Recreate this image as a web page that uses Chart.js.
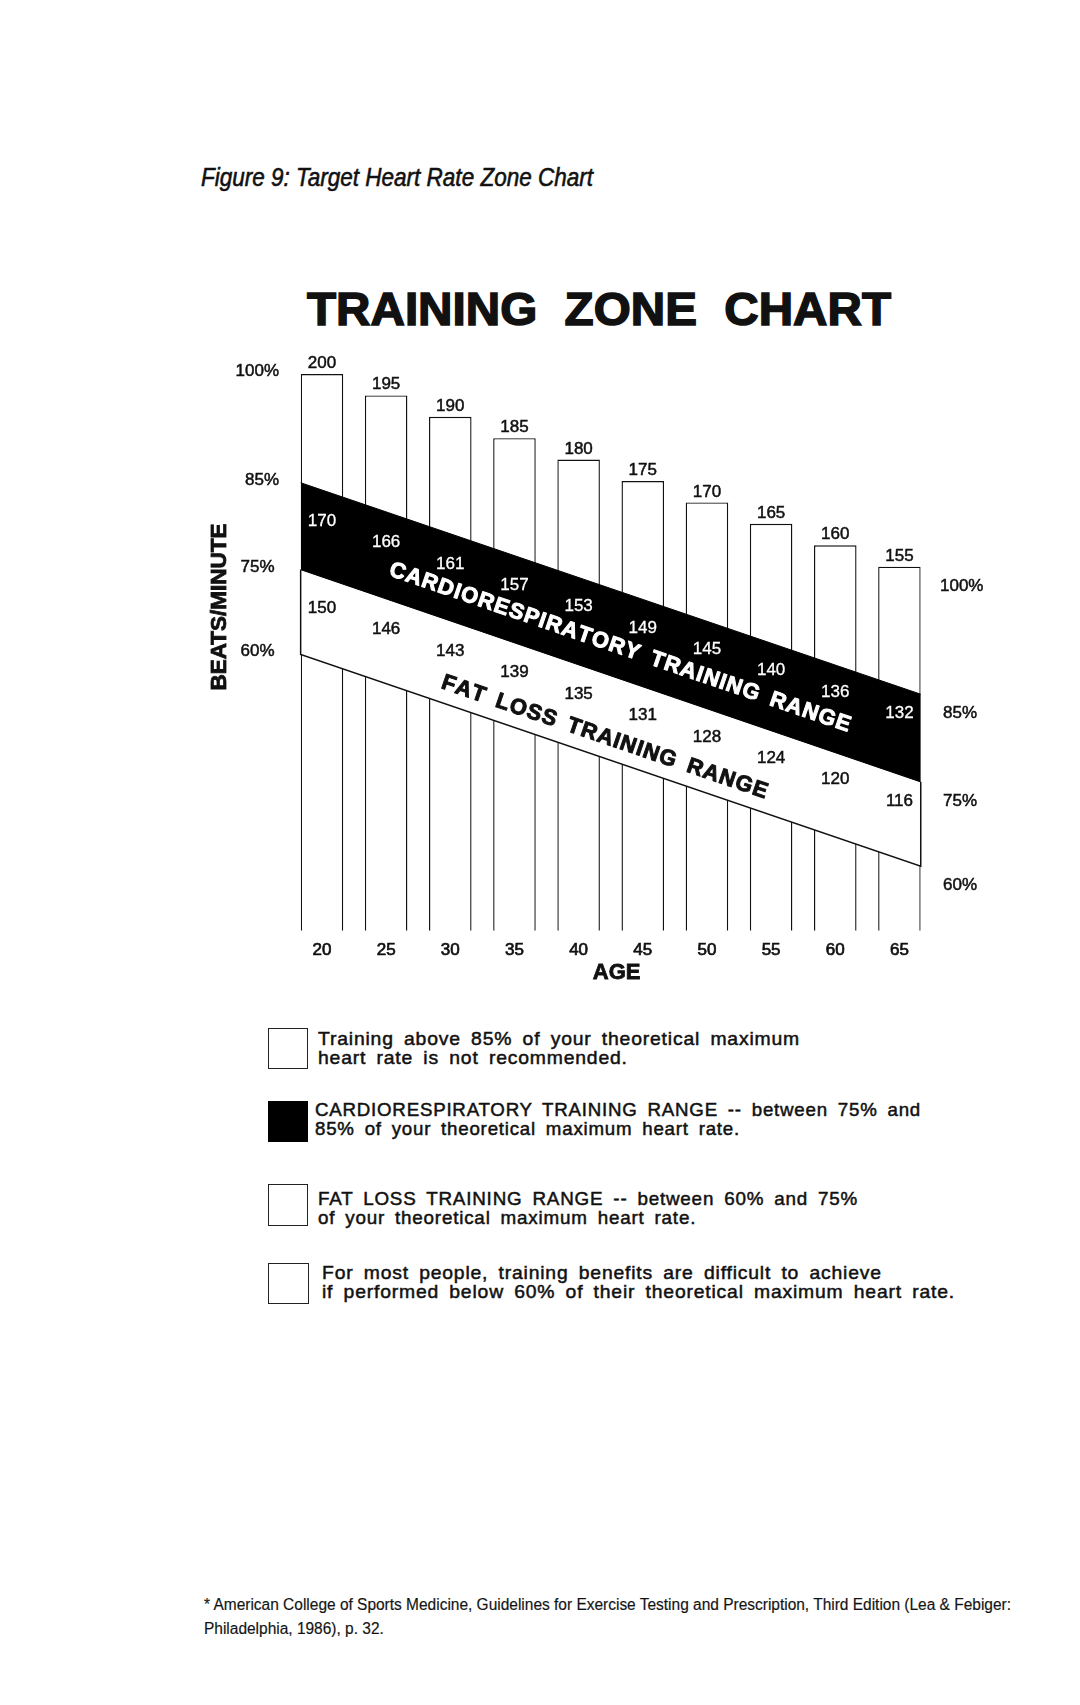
<!DOCTYPE html>
<html>
<head>
<meta charset="utf-8">
<script src="https://cdn.jsdelivr.net/npm/chart.js@4.4.1/dist/chart.umd.min.js"></script>
<style>
  html, body { margin: 0; padding: 0; background: #fff; }
  body { width: 1080px; height: 1705px; position: relative; overflow: hidden;
         font-family: "Liberation Sans", Arial, sans-serif; color: #111; }
  .abs { position: absolute; white-space: nowrap; transform-origin: 0 0; }
  #chart { position: absolute; left: 0; top: 0; }
  .caption { left: 201px; top: 164px; font-size: 26px; line-height: 26px; font-style: italic;
             -webkit-text-stroke: 0.6px #111; }
  .title { left: 307px; top: 285px; font-size: 47px; line-height: 47px; font-weight: bold;
           word-spacing: 14px; -webkit-text-stroke: 1.5px #111; }
  .box { position: absolute; box-sizing: border-box; border: 1.3px solid #222; background: #fff; }
  .legend { font-size: 19px; line-height: 19.3px; letter-spacing: 0.8px; word-spacing: 4px;
            -webkit-text-stroke: 0.5px #111; }
  .foot { left: 204px; top: 1593px; font-size: 16px; line-height: 24px; -webkit-text-stroke: 0.2px #333; }
</style>
</head>
<body>
<div class="abs caption" data-w="392">Figure 9: Target Heart Rate Zone Chart</div>
<div class="abs title" data-w="584">TRAINING ZONE CHART</div>

<canvas id="chart" width="1080" height="1000"></canvas>

<div class="box" style="left:267.7px;top:1028.3px;width:40.6px;height:41px;"></div>
<div class="abs legend" style="left:318.3px;top:1028.8px;" data-w="482">Training above 85% of your theoretical maximum<br>heart rate is not recommended.</div>

<div class="box" style="left:268.3px;top:1101px;width:40px;height:40.7px;background:#000;border-color:#000;"></div>
<div class="abs legend" style="left:315px;top:1099.5px;" data-w="606">CARDIORESPIRATORY TRAINING RANGE -- between 75% and<br>85% of your theoretical maximum heart rate.</div>

<div class="box" style="left:268px;top:1184.3px;width:40px;height:41.4px;"></div>
<div class="abs legend" style="left:318.3px;top:1188.8px;" data-w="540">FAT LOSS TRAINING RANGE -- between 60% and 75%<br>of your theoretical maximum heart rate.</div>

<div class="box" style="left:268.3px;top:1262.7px;width:40.7px;height:41.6px;"></div>
<div class="abs legend" style="left:321.7px;top:1262.8px;" data-w="633">For most people, training benefits are difficult to achieve<br>if performed below 60% of their theoretical maximum heart rate.</div>

<div class="abs foot" data-w="807">* American College of Sports Medicine, Guidelines for Exercise Testing and Prescription, Third Edition (Lea &amp; Febiger:<br>Philadelphia, 1986), p. 32.</div>

<script>
// data
const ages = [20, 25, 30, 35, 40, 45, 50, 55, 60, 65];
const maxRate = [200, 195, 190, 185, 180, 175, 170, 165, 160, 155];
const cardioRate = [170, 166, 161, 157, 153, 149, 145, 140, 136, 132];
const fatLossRate = [150, 146, 143, 139, 135, 131, 128, 124, 120, 116];

// the zone bands are drawn schematically: straight edges from the first bar's
// left side to the last bar's right side, in the bars' beats/minute scale
const zoneEdgeAge = [18.34, 66.66];
const zone85Line = [174.6, 125.2];
const zone75Line = [154.3, 104.7];
const zone60Line = [134.5, 85.0];
const leftPercent = ['100%', '85%', '75%', '60%'];
const rightPercent = ['100%', '85%', '75%', '60%'];

const FONT = '"Liberation Sans", Arial, sans-serif';

function pts(ys) {
    return zoneEdgeAge.map((a, i) => ({ x: a, y: ys[i] }));
}

// value of a zone edge at a given age
function zoneAt(line, age) {
    const t = (age - zoneEdgeAge[0]) / (zoneEdgeAge[1] - zoneEdgeAge[0]);
    return line[0] + (line[1] - line[0]) * t;
}

function txt(ctx, s, x, yMid, size, opts = {}) {
    ctx.save();
    ctx.font = `${opts.bold ? 'bold ' : ''}${size}px ${FONT}`;
    ctx.fillStyle = opts.color || '#111';
    ctx.textAlign = opts.align || 'center';
    ctx.textBaseline = 'alphabetic';
    const y = yMid + size * 0.358;
    ctx.fillText(s, x, y);
    if (opts.heavy) {
        ctx.strokeStyle = opts.color || '#111';
        ctx.lineWidth = opts.heavy;
        ctx.strokeText(s, x, y);
    }
    ctx.restore();
}

// text laid along the band, char by char so spacing can be opened up
function slantText(ctx, s, cx, cy, angle, size, color, ls, ws) {
    ctx.save();
    ctx.font = `bold ${size}px ${FONT}`;
    ctx.fillStyle = color;
    ctx.strokeStyle = color;
    ctx.lineWidth = 1;
    ctx.lineJoin = 'round';
    ctx.textBaseline = 'alphabetic';
    ctx.textAlign = 'left';
    const chars = s.split('');
    let total = 0;
    chars.forEach((c, i) => {
        total += ctx.measureText(c).width;
        if (i < chars.length - 1) total += ls + (c === ' ' ? ws : 0);
    });
    ctx.translate(cx, cy);
    ctx.rotate(angle);
    let x = -total / 2;
    chars.forEach(c => {
        ctx.fillText(c, x, size * 0.358);
        ctx.strokeText(c, x, size * 0.358);
        x += ctx.measureText(c).width + ls + (c === ' ' ? ws : 0);
    });
    ctx.restore();
}

const labelsPlugin = {
    id: 'zoneLabels',
    afterDatasetsDraw(chart) {
        const ctx = chart.ctx;
        const xs = chart.scales.x;
        const ys = chart.scales.y;
        const px = a => xs.getPixelForValue(a);
        const py = v => ys.getPixelForValue(v);

        ages.forEach((a, i) => {
            const x = px(a);
            const off = 30 - 5 * i / (ages.length - 1);
            txt(ctx, String(maxRate[i]), x, py(maxRate[i]) - 12, 17, { heavy: 0.5 });
            txt(ctx, String(cardioRate[i]), x, py(zoneAt(zone85Line, a)) + off, 17, { color: '#fff', heavy: 0.3 });
            txt(ctx, String(fatLossRate[i]), x, py(zoneAt(zone75Line, a)) + off, 17, { heavy: 0.5 });
            txt(ctx, String(a), x, ys.bottom + 18.5, 17, { heavy: 0.7 });
        });

        txt(ctx, 'AGE', 616.7, ys.bottom + 40.5, 22, { bold: true, heavy: 0.8 });

        ctx.save();
        ctx.translate(217.5, 607);
        ctx.rotate(-Math.PI / 2);
        txt(ctx, 'BEATS/MINUTE', 0, 0, 22.5, { bold: true, heavy: 0.8 });
        ctx.restore();

        const leftY = [py(maxRate[0]), py(zone85Line[0]), py(zone75Line[0]), py(zone60Line[0])];
        const leftX = [279, 279, 274.5, 274.5];
        leftPercent.forEach((s, i) => txt(ctx, s, leftX[i], leftY[i] - 4, 17, { align: 'right', heavy: 0.5 }));

        const last = maxRate.length - 1;
        const rightY = [py(maxRate[last]), py(zone85Line[1]), py(zone75Line[1]), py(zone60Line[1])];
        rightPercent.forEach((s, i) => txt(ctx, s, i === 0 ? 940 : 943, rightY[i] + 18, 17, { align: 'left', heavy: 0.5 }));

        const angle = Math.atan2(py(zone85Line[1]) - py(zone85Line[0]), px(zoneEdgeAge[1]) - px(zoneEdgeAge[0]));
        const cX = 620.5;
        const cAge = xs.getValueForPixel(cX);
        const cMid = (py(zoneAt(zone85Line, cAge)) + py(zoneAt(zone75Line, cAge))) / 2;
        slantText(ctx, 'CARDIORESPIRATORY TRAINING RANGE', cX, cMid + 10.5, angle, 22, '#fff', 1.1, 4);

        const fX = 605;
        const fAge = xs.getValueForPixel(fX);
        const fMid = (py(zoneAt(zone75Line, fAge)) + py(zoneAt(zone60Line, fAge))) / 2;
        slantText(ctx, 'FAT LOSS TRAINING RANGE', fX, fMid + 19.5, angle, 22, '#111', 1.1, 4);
    }
};

const lineBase = { type: 'line', pointRadius: 0, tension: 0, clip: false, borderColor: '#111' };

new Chart(document.getElementById('chart'), {
    type: 'bar',
    data: {
        datasets: [
            {
                label: 'Maximum heart rate',
                data: ages.map((a, i) => ({ x: a, y: maxRate[i] })),
                backgroundColor: '#fff',
                borderColor: '#111',
                borderWidth: 1.4,
                borderSkipped: false,
                barPercentage: 0.663,
                categoryPercentage: 1,
                order: 4
            },
            { ...lineBase, label: '85%', data: pts(zone85Line), borderColor: '#000', backgroundColor: '#000', borderWidth: 1, fill: '+1', order: 2 },
            { ...lineBase, label: '75%', data: pts(zone75Line), borderColor: '#000', backgroundColor: '#fff', borderWidth: 1, fill: '+1', order: 3 },
            { ...lineBase, label: '60%', data: pts(zone60Line), borderWidth: 0, fill: false, order: 1 },
            {
                ...lineBase,
                label: 'fat loss outline',
                data: [
                    { x: zoneEdgeAge[0], y: zone75Line[0] },
                    { x: zoneEdgeAge[0], y: zone60Line[0] },
                    { x: zoneEdgeAge[1], y: zone60Line[1] },
                    { x: zoneEdgeAge[1], y: zone75Line[1] }
                ],
                borderWidth: 1.5,
                fill: false,
                order: 0
            }
        ]
    },
    options: {
        responsive: false,
        animation: false,
        layout: { padding: { left: 300.66, right: 159.26, top: 331.2, bottom: 69.5 } },
        plugins: { legend: { display: false }, tooltip: { enabled: false } },
        scales: {
            x: { type: 'linear', min: zoneEdgeAge[0], max: zoneEdgeAge[1], offset: false, display: false },
            y: { type: 'linear', min: 70, max: 210, display: false }
        }
    },
    plugins: [labelsPlugin]
});

// squeeze or stretch the text lines to the widths they have in the picture
document.querySelectorAll('[data-w]').forEach(el => {
    const w = el.getBoundingClientRect().width;
    el.style.transform = `scaleX(${el.dataset.w / w})`;
});
</script>
</body>
</html>
